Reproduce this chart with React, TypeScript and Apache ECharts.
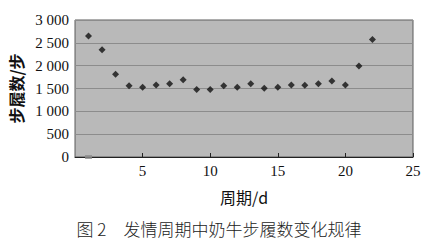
import React, { useEffect, useRef } from "react";
import * as echarts from "echarts";

const days = [1, 2, 3, 4, 5, 6, 7, 8, 9, 10, 11, 12, 13, 14, 15, 16, 17, 18, 19, 20, 21, 22];
const steps = [2650, 2350, 1810, 1560, 1525, 1575, 1605, 1690, 1480, 1480, 1560, 1525, 1605, 1505, 1525, 1575, 1570, 1605, 1665, 1575, 1995, 2575];
const baseMarker = [[1, 0]];
const xTicks = [0, 5, 10, 15, 20, 25];
const yTicks = [0, 500, 1000, 1500, 2000, 2500, 3000];

const xName = "周期/d";
const yName = "步履数/步";
const caption = "图 2　发情周期中奶牛步履数变化规律";

const serif = "'Liberation Serif', 'Times New Roman', serif";
const cjk = "Noto Sans CJK SC";

export default function App() {
  const ref = useRef<HTMLDivElement>(null);
  useEffect(() => {
    document.body.style.margin = "0";
    const chart = echarts.init(ref.current!, undefined, { renderer: "svg" });
    const fmt = (v: number) => {
      const s = String(v);
      return s.length > 3 ? s.slice(0, s.length - 3) + " " + s.slice(s.length - 3) : s;
    };
    chart.setOption({
      animation: false,
      backgroundColor: "#ffffff",
      textStyle: { fontFamily: serif },
      title: {
        text: caption,
        left: "center",
        top: 215,
        textStyle: { fontFamily: cjk, fontSize: 17, fontWeight: 300, color: "#222" },
      },
      grid: {
        left: 75,
        top: 20,
        right: 25,
        bottom: 92,
        show: true,
        outerBoundsMode: "none",
        containLabel: false,
        backgroundColor: "#b9b9b9",
        borderColor: "#5a5a5a",
        borderWidth: 1,
      },
      xAxis: {
        type: "value",
        min: xTicks[0],
        max: xTicks[xTicks.length - 1],
        interval: 5,
        name: xName,
        nameLocation: "middle",
        nameGap: 32,
        nameTextStyle: { fontFamily: cjk, fontSize: 16, color: "#111" },
        axisLine: { show: true, onZero: false, lineStyle: { color: "#222", width: 1 } },
        axisTick: { show: true, inside: true, length: 4, lineStyle: { color: "#222" } },
        axisLabel: {
          showMinLabel: false,
          fontFamily: serif,
          fontSize: 15,
          color: "#111",
          margin: 6,
        },
        splitLine: { show: false },
      },
      yAxis: {
        type: "value",
        min: yTicks[0],
        max: yTicks[yTicks.length - 1],
        interval: 500,
        name: yName,
        nameLocation: "middle",
        nameGap: 51,
        nameTextStyle: { fontFamily: cjk, fontSize: 16, fontWeight: "bold", color: "#111" },
        axisLine: { show: false },
        axisTick: { show: false },
        axisLabel: {
          fontFamily: serif,
          fontSize: 15,
          color: "#111",
          margin: 6,
          formatter: fmt,
        },
        splitLine: { show: true, lineStyle: { color: "#8c8c8c", width: 1 } },
      },
      series: [
        {
          type: "scatter",
          data: days.map((d, i) => [d, steps[i]]),
          symbol: "diamond",
          symbolSize: 7,
          itemStyle: { color: "#111" },
        },
        {
          type: "scatter",
          data: baseMarker,
          symbol: "rect",
          symbolSize: [7, 4],
          itemStyle: { color: "#8c8c8c" },
        },
      ],
    });
    return () => chart.dispose();
  }, []);
  return <div ref={ref} style={{ width: 438, height: 249 }} />;
}
